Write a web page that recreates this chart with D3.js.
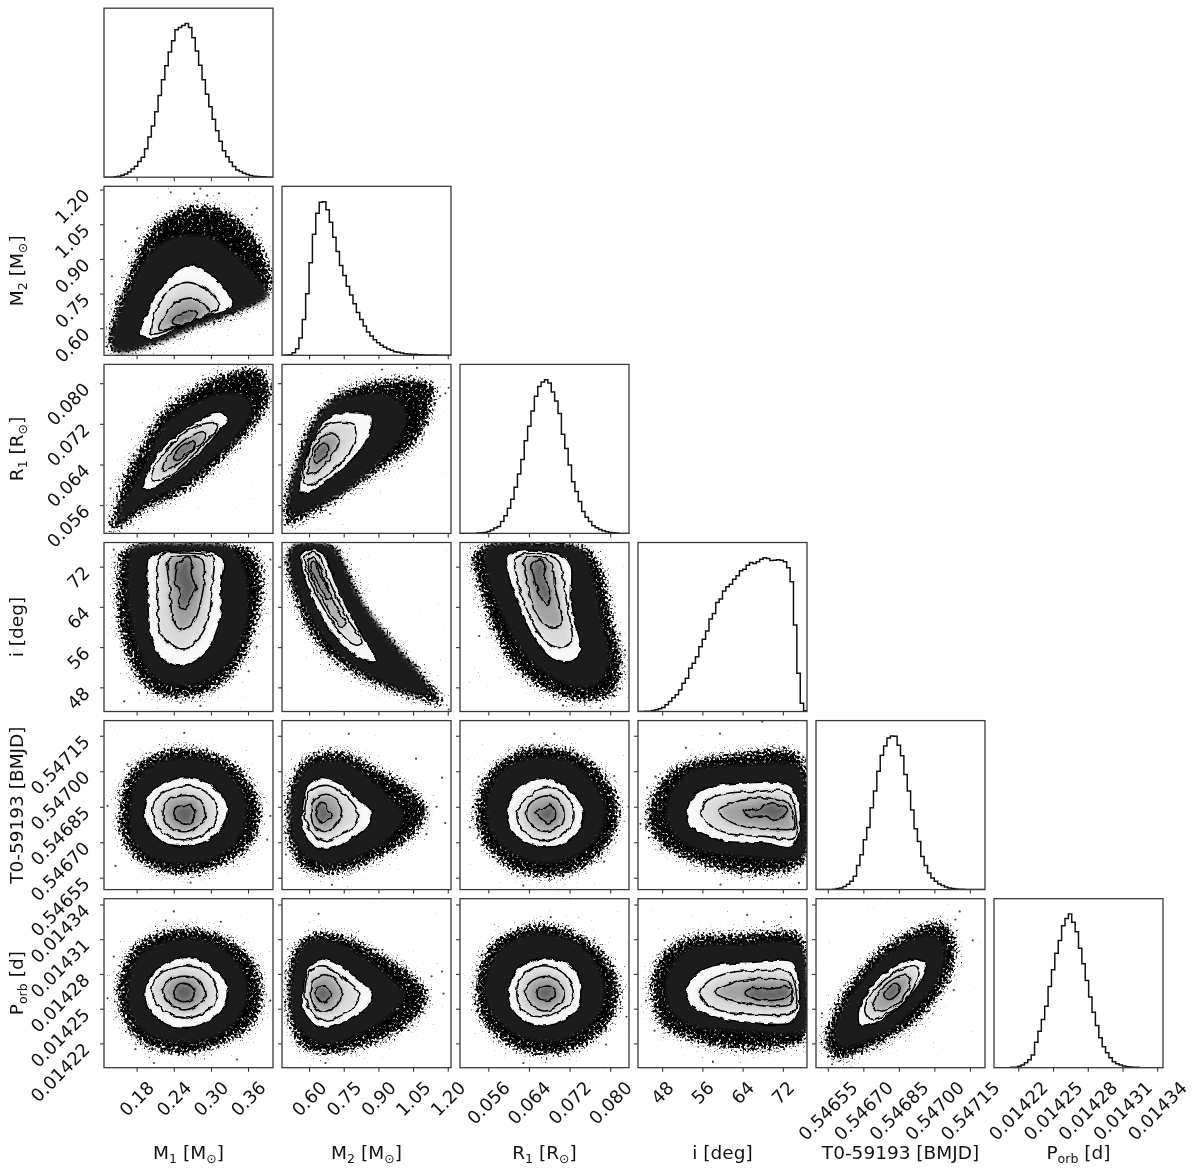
<!DOCTYPE html>
<html>
<head>
<meta charset="utf-8">
<script src="https://d3js.org/d3.v7.min.js"></script>
<style>
	html, body { margin: 0; padding: 0; background: #fff; }
	svg { display: block; filter: blur(0.3px); }
	text { font-family: "DejaVu Sans"; fill: #111; white-space: pre; }
</style>
</head>
<body>
<svg id="corner" width="1200" height="1172"></svg>
<script>
// parameter ranges and ticks
var names = ["M1", "M2", "R1", "i", "T0", "Porb"];
var domains = [[0.1273, 0.4003], [0.483, 1.214], [0.05043, 0.0837], [43.2, 76.8], [0.5465, 0.547214], [0.014199, 0.014345]];
var tick_m1 = ["0.18", "0.24", "0.30", "0.36"];
var tick_m2 = ["0.60", "0.75", "0.90", "1.05", "1.20"];
var tick_r1 = ["0.056", "0.064", "0.072", "0.080"];
var tick_i = ["48", "56", "64", "72"];
var tick_t0 = ["0.54655", "0.54670", "0.54685", "0.54700", "0.54715"];
var tick_porb = ["0.01422", "0.01425", "0.01428", "0.01431", "0.01434"];
var ticks = [tick_m1, tick_m2, tick_r1, tick_i, tick_t0, tick_porb];
// [text, is subscript]
var labels = [
	[["M", 0], ["1", 1], [" [M", 0], ["⊙", 1], ["]", 0]],
	[["M", 0], ["2", 1], [" [M", 0], ["⊙", 1], ["]", 0]],
	[["R", 0], ["1", 1], [" [R", 0], ["⊙", 1], ["]", 0]],
	[["i [deg]", 0]],
	[["T0-59193 [BMJD]", 0]],
	[["P", 0], ["orb", 1], [" [d]", 0]]
];

// 50 bin histograms, relative counts
var bins_m1 = [0,0,0,1,3,6,10,16,25,33,47,60,86,121,154,197,246,294,336,377,411,444,451,457,463,451,420,380,337,294,250,212,175,140,108,80,62,46,32,22,17,12,8,5,3,2,1,1,0,0];
var bins_m2 = [0,1,2,8,20,52,108,185,278,364,427,460,462,438,400,355,312,270,240,208,181,155,129,108,88,70,58,47,38,30,24,19,15,11,9,7,5,4,3,3,2,2,1,1,1,1,0,0,0,0];
var bins_r1 = [0,0,0,0,0,1,2,3,6,10,16,21,36,53,76,103,139,179,223,279,323,369,413,443,456,463,453,426,399,361,299,256,206,156,126,96,66,49,36,23,17,12,8,5,3,2,1,0,0,0];
var bins_i = [0,0,1,1,3,5,8,12,20,30,41,50,65,85,100,130,145,165,195,217,242,278,295,328,338,362,375,383,398,408,423,428,440,448,445,450,458,462,460,454,455,456,455,450,432,390,260,115,25,2];
var bins_t0 = [0,0,0,0,0,1,3,5,9,16,25,40,73,105,150,187,247,297,357,405,433,457,463,462,435,403,347,297,240,183,145,100,73,50,35,25,17,12,8,5,3,2,1,1,0,0,0,0,0,0];
var bins_porb = [0,0,0,0,0,1,1,4,8,15,24,38,77,110,145,185,245,295,345,383,428,450,463,438,410,360,313,263,213,167,127,90,63,45,30,18,12,8,5,3,2,1,1,0,0,0,0,0,0,0];
var bins = [bins_m1, bins_m2, bins_r1, bins_i, bins_t0, bins_porb];

// M1 / M2
var halo_m1_m2 = [[0.133,0.50],[0.140,0.66],[0.160,0.80],[0.181,0.95],[0.210,1.06],[0.260,1.13],[0.310,1.13],[0.365,1.03],[0.392,0.90],[0.398,0.76],[0.345,0.66],[0.275,0.60],[0.205,0.52],[0.150,0.49]];
var cloud_m1_m2 = [[0.146,0.500],[0.141,0.565],[0.160,0.709],[0.178,0.825],[0.205,0.933],[0.238,0.990],[0.270,1.005],[0.302,0.990],[0.340,0.919],[0.372,0.825],[0.391,0.738],[0.340,0.673],[0.275,0.608],[0.211,0.536]];
var levels_m1_m2 = [
	[[0.186,0.572],[0.197,0.666],[0.211,0.746],[0.230,0.810],[0.248,0.854],[0.267,0.875],[0.286,0.856],[0.308,0.817],[0.324,0.767],[0.335,0.695],[0.297,0.652],[0.253,0.608],[0.205,0.554]],
	[[0.203,0.579],[0.208,0.652],[0.219,0.717],[0.235,0.767],[0.254,0.796],[0.275,0.793],[0.297,0.760],[0.314,0.695],[0.286,0.644],[0.248,0.608],[0.213,0.577]],
	[[0.216,0.594],[0.224,0.652],[0.240,0.702],[0.257,0.727],[0.278,0.724],[0.298,0.669],[0.270,0.630],[0.238,0.601]],
	[[0.238,0.623],[0.243,0.652],[0.259,0.670],[0.276,0.673],[0.273,0.640],[0.251,0.616]]
];
var stray_m1_m2 = [[0.283,1.204],[0.273,1.182],[0.235,1.188],[0.294,1.174],[0.181,1.032],[0.366,1.091],[0.374,1.119],[0.162,0.976],[0.140,0.825],[0.394,0.868],[0.184,0.989],[0.313,1.184],[0.278,1.15],[0.25,1.12],[0.33,1.10]];

// M1 / R1
var halo_m1_r1 = [[0.133,0.0511],[0.141,0.0551],[0.160,0.0623],[0.184,0.0676],[0.222,0.0748],[0.265,0.0788],[0.313,0.0818],[0.382,0.0830],[0.399,0.0775],[0.378,0.0722],[0.340,0.0672],[0.297,0.0620],[0.248,0.0577],[0.195,0.0548],[0.151,0.0511]];
var cloud_m1_r1 = [[0.149,0.0524],[0.154,0.0554],[0.173,0.0597],[0.195,0.0643],[0.227,0.0722],[0.270,0.0758],[0.318,0.0781],[0.356,0.0775],[0.367,0.0748],[0.340,0.0692],[0.302,0.0650],[0.259,0.0603],[0.205,0.0571],[0.168,0.0541]];
var levels_m1_r1 = [
	[[0.189,0.0592],[0.195,0.0617],[0.208,0.0650],[0.230,0.0683],[0.254,0.0706],[0.275,0.0722],[0.297,0.0739],[0.316,0.0743],[0.328,0.0729],[0.313,0.0706],[0.291,0.0673],[0.265,0.0643],[0.238,0.0617],[0.216,0.0600],[0.197,0.0590]],
	[[0.205,0.0609],[0.206,0.0627],[0.219,0.0653],[0.240,0.0683],[0.262,0.0706],[0.286,0.0719],[0.309,0.0721],[0.310,0.0709],[0.291,0.0683],[0.267,0.0653],[0.243,0.0627],[0.222,0.0611]],
	[[0.222,0.0628],[0.224,0.0643],[0.243,0.0673],[0.265,0.0694],[0.289,0.0704],[0.291,0.0692],[0.270,0.0666],[0.246,0.0640],[0.227,0.0627]],
	[[0.240,0.0651],[0.243,0.0663],[0.257,0.0680],[0.274,0.0684],[0.273,0.0673],[0.259,0.0660],[0.246,0.0648]]
];
var stray_m1_r1 = [[0.366,0.0824],[0.291,0.0808],[0.396,0.0778],[0.235,0.0771],[0.181,0.0669],[0.138,0.0593],[0.281,0.0623],[0.356,0.0788],[0.253,0.0775],[0.335,0.0815]];

// M1 / i
var halo_m1_i = [[0.154,75.4],[0.262,76.8],[0.369,75.4],[0.386,69.4],[0.375,60.2],[0.348,52.2],[0.300,46.9],[0.251,45.6],[0.203,46.9],[0.168,52.2],[0.149,60.8],[0.146,70.1]];
var cloud_m1_i = [[0.173,75.7],[0.257,76.6],[0.332,75.7],[0.353,72.1],[0.361,62.8],[0.337,54.2],[0.294,49.6],[0.251,48.2],[0.213,49.6],[0.184,54.9],[0.168,62.8],[0.165,71.4]];
var levels_m1_i = [
	[[0.200,73.8],[0.219,74.8],[0.262,75.1],[0.305,74.6],[0.320,73.4],[0.316,68.1],[0.317,62.8],[0.308,58.8],[0.294,55.2],[0.270,52.9],[0.246,52.3],[0.219,53.9],[0.203,58.2],[0.198,66.1]],
	[[0.214,73.1],[0.222,74.5],[0.262,74.7],[0.300,74.1],[0.305,73.1],[0.302,68.1],[0.297,62.1],[0.283,58.2],[0.259,55.7],[0.235,56.5],[0.218,58.8],[0.214,66.1]],
	[[0.232,73.4],[0.262,74.1],[0.286,73.4],[0.289,69.4],[0.283,64.8],[0.273,61.2],[0.251,59.5],[0.239,61.5],[0.234,67.5]],
	[[0.246,72.4],[0.262,73.8],[0.270,72.8],[0.268,70.8],[0.277,67.8],[0.267,65.8],[0.259,63.5],[0.248,64.8],[0.251,66.8],[0.243,68.8],[0.244,71.1]]
];
var stray_m1_i = [[0.143,75.4],[0.184,46.9],[0.374,56.1],[0.251,44.9],[0.283,44.3],[0.396,73.4],[0.160,45.2],[0.361,51.2]];

// M1 / T0
var halo_m1_t0 = [[0.149,0.546839],[0.168,0.547008],[0.208,0.547079],[0.257,0.547107],[0.321,0.547065],[0.364,0.546966],[0.383,0.546825],[0.367,0.546685],[0.316,0.546593],[0.257,0.546558],[0.197,0.546593],[0.157,0.546691]];
var cloud_m1_t0 = [[0.168,0.546839],[0.181,0.546966],[0.213,0.547037],[0.257,0.547058],[0.305,0.547037],[0.340,0.546959],[0.359,0.546839],[0.345,0.546713],[0.308,0.546635],[0.257,0.546607],[0.203,0.546635],[0.173,0.546713]];
var levels_m1_t0 = [
	[[0.192,0.546832],[0.200,0.546903],[0.224,0.546952],[0.257,0.546973],[0.294,0.546952],[0.318,0.546896],[0.328,0.546832],[0.318,0.546762],[0.294,0.546706],[0.259,0.546685],[0.224,0.546699],[0.200,0.546755]],
	[[0.206,0.546832],[0.211,0.546882],[0.230,0.546917],[0.257,0.546938],[0.289,0.546917],[0.308,0.546860],[0.310,0.546811],[0.297,0.546748],[0.267,0.546713],[0.235,0.546720],[0.213,0.546769]],
	[[0.223,0.546832],[0.230,0.546875],[0.257,0.546898],[0.281,0.546879],[0.290,0.546825],[0.283,0.546776],[0.259,0.546745],[0.235,0.546762],[0.224,0.546797]],
	[[0.240,0.546825],[0.246,0.546851],[0.257,0.546851],[0.265,0.546860],[0.274,0.546825],[0.273,0.546797],[0.259,0.546776],[0.246,0.546794]]
];
var stray_m1_t0 = [[0.257,0.547162],[0.165,0.547029],[0.133,0.546854],[0.396,0.546811],[0.267,0.546530],[0.391,0.546711],[0.146,0.546600]];

// M1 / Porb
var halo_m1_porb = [[0.146,0.014266],[0.168,0.014301],[0.208,0.014315],[0.257,0.014321],[0.321,0.014314],[0.367,0.014295],[0.386,0.014266],[0.370,0.014235],[0.310,0.014216],[0.257,0.014210],[0.197,0.014216],[0.160,0.014235]];
var cloud_m1_porb = [[0.165,0.014266],[0.181,0.014294],[0.219,0.014307],[0.257,0.014311],[0.305,0.014307],[0.340,0.014292],[0.361,0.014266],[0.345,0.014242],[0.308,0.014226],[0.257,0.014221],[0.203,0.014226],[0.173,0.014242]];
var levels_m1_porb = [
	[[0.193,0.014264],[0.200,0.014276],[0.224,0.014288],[0.254,0.014294],[0.289,0.014291],[0.316,0.014279],[0.328,0.014265],[0.318,0.014249],[0.294,0.014239],[0.267,0.014234],[0.230,0.014236],[0.200,0.014249]],
	[[0.204,0.014265],[0.213,0.014278],[0.235,0.014284],[0.262,0.014287],[0.294,0.014281],[0.308,0.014269],[0.310,0.014259],[0.294,0.014248],[0.262,0.014242],[0.235,0.014245],[0.211,0.014256]],
	[[0.222,0.014266],[0.232,0.014274],[0.257,0.014278],[0.278,0.014275],[0.290,0.014265],[0.283,0.014255],[0.259,0.014249],[0.240,0.014252],[0.224,0.014261]],
	[[0.240,0.014264],[0.248,0.014271],[0.262,0.014271],[0.273,0.014266],[0.274,0.014261],[0.265,0.014257],[0.248,0.014257]]
];
var stray_m1_porb = [[0.240,0.014334],[0.227,0.014326],[0.316,0.014325],[0.143,0.014295],[0.133,0.014259],[0.396,0.014257],[0.208,0.014203],[0.342,0.014206],[0.178,0.014215]];

// M2 / R1
var halo_m2_r1 = [[0.497,0.0515],[0.490,0.0571],[0.534,0.0643],[0.598,0.0722],[0.699,0.0775],[0.829,0.0801],[1.002,0.0811],[1.146,0.0798],[1.132,0.0742],[1.060,0.0676],[0.944,0.0637],[0.815,0.0597],[0.670,0.0554],[0.555,0.0524]];
var cloud_m2_r1 = [[0.526,0.0544],[0.515,0.0577],[0.555,0.0643],[0.613,0.0709],[0.692,0.0762],[0.815,0.0778],[0.944,0.0778],[1.024,0.0739],[0.988,0.0686],[0.887,0.0637],[0.743,0.0584],[0.613,0.0554]];
var levels_m2_r1 = [
	[[0.562,0.0585],[0.566,0.0623],[0.598,0.0669],[0.656,0.0719],[0.714,0.0739],[0.800,0.0742],[0.872,0.0734],[0.865,0.0706],[0.829,0.0673],[0.757,0.0637],[0.656,0.0600],[0.591,0.0584]],
	[[0.577,0.0605],[0.581,0.0637],[0.613,0.0682],[0.670,0.0715],[0.728,0.0723],[0.793,0.0718],[0.803,0.0699],[0.778,0.0666],[0.714,0.0633],[0.642,0.0607],[0.591,0.0600]],
	[[0.598,0.0622],[0.605,0.0653],[0.642,0.0689],[0.692,0.0702],[0.728,0.0694],[0.721,0.0673],[0.685,0.0650],[0.634,0.0625]],
	[[0.624,0.0647],[0.634,0.0670],[0.663,0.0682],[0.685,0.0675],[0.670,0.0656],[0.642,0.0645]]
];
var stray_m2_r1 = [[1.123,0.0837],[1.067,0.0830],[1.204,0.0791],[1.167,0.0775],[0.691,0.0543],[1.002,0.0637],[1.089,0.0689],[1.009,0.0672],[0.730,0.0789],[0.916,0.0827],[0.496,0.0521],[1.19,0.0780],[1.04,0.0815]];

// M2 / i
var halo_m2_i = [[0.497,74.8],[0.541,76.7],[0.721,76.1],[0.778,71.1],[0.851,63.8],[0.944,58.5],[1.060,52.5],[1.161,47.2],[1.189,43.9],[1.089,45.2],[0.944,47.2],[0.786,50.6],[0.649,55.5],[0.555,62.8],[0.505,69.8]];
var cloud_m2_i = [[0.512,74.4],[0.541,76.3],[0.692,76.1],[0.750,72.4],[0.800,67.1],[0.887,61.2],[0.988,55.5],[1.089,49.9],[1.117,46.9],[1.045,46.9],[0.944,48.6],[0.800,51.9],[0.685,56.5],[0.591,63.1],[0.534,69.1]];
var levels_m2_i = [
	[[0.566,74.4],[0.598,75.3],[0.649,75.1],[0.685,72.4],[0.728,67.1],[0.778,62.5],[0.836,57.8],[0.894,53.3],[0.843,53.3],[0.757,55.9],[0.685,59.8],[0.620,65.1],[0.577,70.4]],
	[[0.581,73.8],[0.605,74.8],[0.642,74.3],[0.670,71.1],[0.714,66.5],[0.764,61.8],[0.829,56.9],[0.800,56.4],[0.728,59.2],[0.663,63.8],[0.605,69.1]],
	[[0.595,73.1],[0.620,73.9],[0.642,72.4],[0.685,67.1],[0.728,63.1],[0.760,60.4],[0.735,60.2],[0.678,63.8],[0.627,68.1],[0.603,71.1]],
	[[0.610,72.8],[0.627,73.1],[0.644,70.8],[0.670,68.4],[0.696,65.8],[0.678,65.5],[0.649,67.8],[0.620,70.1]]
];
var stray_m2_i = [[1.204,43.6],[1.175,45.9],[1.024,53.5],[0.950,58.8],[0.685,54.0],[0.799,49.9],[1.139,47.2],[1.074,52.1]];

// R1 / i
var halo_r1_i = [[0.0528,75.2],[0.0751,76.2],[0.0785,72.1],[0.0808,61.2],[0.0826,53.1],[0.0812,46.9],[0.0751,44.9],[0.0690,46.3],[0.0616,51.0],[0.0568,59.2],[0.0538,68.1]];
var cloud_r1_i = [[0.0555,75.7],[0.0656,76.4],[0.0744,75.2],[0.0768,69.4],[0.0785,60.6],[0.0799,53.1],[0.0771,48.3],[0.0724,48.3],[0.0670,51.0],[0.0623,55.8],[0.0582,63.3],[0.0558,70.1]];
var levels_r1_i = [
	[[0.0597,74.2],[0.0616,75.0],[0.0663,75.2],[0.0711,73.8],[0.0723,72.1],[0.0724,64.6],[0.0742,56.5],[0.0741,55.1],[0.0724,53.2],[0.0683,53.9],[0.0650,57.8],[0.0616,65.3],[0.0599,70.8]],
	[[0.0612,73.5],[0.0629,74.5],[0.0677,74.3],[0.0700,72.8],[0.0711,66.7],[0.0721,61.2],[0.0724,57.2],[0.0697,55.9],[0.0663,58.2],[0.0629,65.3],[0.0616,70.1]],
	[[0.0631,73.5],[0.0653,74.0],[0.0683,72.8],[0.0691,68.1],[0.0704,60.4],[0.0680,59.9],[0.0653,62.9],[0.0636,69.4]],
	[[0.0646,72.1],[0.0660,73.4],[0.0673,72.3],[0.0669,69.8],[0.0682,67.4],[0.0677,64.3],[0.0663,66.0],[0.0650,69.8]]
];
var stray_r1_i = [[0.0542,58.2],[0.0788,70.1],[0.0829,55.4],[0.0643,48.3],[0.0707,44.4],[0.0781,43.9],[0.0808,46.2],[0.0697,52.5],[0.0706,52.6]];

// M2 / T0
var halo_m2_t0 = [[0.498,0.546821],[0.523,0.546980],[0.604,0.547073],[0.738,0.547089],[0.871,0.547031],[1.034,0.546937],[1.123,0.546836],[1.049,0.546720],[0.885,0.546618],[0.693,0.546561],[0.560,0.546590],[0.504,0.546705]];
var cloud_m2_t0 = [[0.518,0.546821],[0.545,0.546951],[0.612,0.547031],[0.730,0.547045],[0.842,0.546988],[0.953,0.546886],[1.012,0.546814],[0.945,0.546713],[0.812,0.546640],[0.679,0.546604],[0.575,0.546647],[0.528,0.546727]];
var levels_m2_t0 = [
	[[0.572,0.546850],[0.597,0.546944],[0.649,0.546969],[0.738,0.546944],[0.812,0.546879],[0.874,0.546828],[0.849,0.546763],[0.782,0.546713],[0.679,0.546669],[0.605,0.546698],[0.572,0.546763]],
	[[0.582,0.546821],[0.605,0.546915],[0.679,0.546940],[0.752,0.546901],[0.807,0.546836],[0.800,0.546778],[0.738,0.546734],[0.664,0.546705],[0.605,0.546749]],
	[[0.609,0.546821],[0.627,0.546886],[0.686,0.546901],[0.738,0.546850],[0.730,0.546792],[0.679,0.546746],[0.627,0.546763]],
	[[0.634,0.546821],[0.649,0.546868],[0.675,0.546857],[0.682,0.546836],[0.698,0.546824],[0.686,0.546800],[0.656,0.546781]]
];
var stray_m2_t0 = [[0.772,0.547158],[1.175,0.546973],[1.189,0.546781],[1.152,0.546850],[1.063,0.547053],[0.699,0.546520],[0.500,0.546648],[1.108,0.546734]];

// R1 / T0
var halo_r1_t0 = [[0.0531,0.546836],[0.0555,0.546992],[0.0609,0.547086],[0.0677,0.547111],[0.0751,0.547067],[0.0799,0.546966],[0.0822,0.546836],[0.0802,0.546691],[0.0745,0.546582],[0.0677,0.546546],[0.0602,0.546582],[0.0548,0.546691]];
var cloud_r1_t0 = [[0.0555,0.546836],[0.0575,0.546973],[0.0622,0.547045],[0.0677,0.547060],[0.0731,0.547031],[0.0771,0.546944],[0.0792,0.546836],[0.0775,0.546720],[0.0731,0.546640],[0.0677,0.546612],[0.0616,0.546640],[0.0572,0.546720]];
var levels_r1_t0 = [
	[[0.0597,0.546821],[0.0609,0.546908],[0.0643,0.546959],[0.0677,0.546969],[0.0717,0.546930],[0.0745,0.546850],[0.0748,0.546807],[0.0738,0.546749],[0.0704,0.546691],[0.0670,0.546680],[0.0629,0.546705],[0.0602,0.546763]],
	[[0.0616,0.546821],[0.0629,0.546869],[0.0670,0.546930],[0.0704,0.546915],[0.0727,0.546843],[0.0725,0.546778],[0.0697,0.546720],[0.0663,0.546708],[0.0629,0.546749]],
	[[0.0635,0.546821],[0.0646,0.546872],[0.0677,0.546896],[0.0700,0.546872],[0.0709,0.546821],[0.0700,0.546770],[0.0673,0.546746],[0.0646,0.546770]],
	[[0.0653,0.546828],[0.0669,0.546840],[0.0680,0.546857],[0.0691,0.546836],[0.0690,0.546800],[0.0677,0.546781],[0.0662,0.546804]]
];
var stray_r1_t0 = [[0.0690,0.547158],[0.0808,0.546980],[0.0836,0.546850],[0.0524,0.546763],[0.0788,0.546618],[0.0629,0.546517],[0.0541,0.546977]];

// i / T0
var halo_i_t0 = [[44.7,0.546831],[47.7,0.546972],[53.0,0.547042],[63.6,0.547084],[74.2,0.547092],[76.8,0.547028],[76.8,0.546620],[74.2,0.546577],[63.6,0.546563],[55.0,0.546606],[49.0,0.546662],[45.4,0.546732]];
var cloud_i_t0 = [[48.7,0.546824],[50.4,0.546936],[54.3,0.547007],[64.3,0.547028],[74.2,0.547028],[76.1,0.546972],[76.7,0.546817],[76.3,0.546648],[73.6,0.546627],[62.9,0.546641],[55.0,0.546669],[50.7,0.546725]];
var levels_i_t0 = [
	[[52.9,0.546831],[54.3,0.546894],[57.7,0.546936],[64.9,0.546951],[72.6,0.546947],[74.5,0.546909],[75.5,0.546817],[74.9,0.546718],[73.6,0.546679],[68.2,0.546697],[60.3,0.546704],[56.3,0.546732],[53.3,0.546775]],
	[[55.7,0.546824],[57.1,0.546880],[60.9,0.546906],[66.9,0.546915],[72.8,0.546913],[74.2,0.546859],[74.7,0.546754],[74.1,0.546715],[68.2,0.546725],[61.6,0.546735],[58.3,0.546761],[56.5,0.546789]],
	[[59.3,0.546834],[63.6,0.546876],[68.9,0.546887],[72.9,0.546866],[74.2,0.546761],[70.9,0.546754],[65.6,0.546761],[61.6,0.546786]],
	[[64.1,0.546831],[67.3,0.546842],[68.9,0.546862],[72.9,0.546842],[72.4,0.546817],[70.1,0.546792],[68.8,0.546810],[65.6,0.546810]]
];
var stray_i_t0 = [[59.5,0.547159],[67.9,0.547210],[43.7,0.546778],[46.7,0.546977],[45.0,0.546931],[49.7,0.547007],[59.6,0.546521],[47.7,0.546669],[75.2,0.546528],[52.7,0.547099]];

// M2 / Porb
var halo_m2_porb = [[0.498,0.014263],[0.523,0.014299],[0.604,0.014316],[0.738,0.014315],[0.901,0.014300],[1.049,0.014281],[1.123,0.014260],[1.049,0.014237],[0.885,0.014219],[0.693,0.014210],[0.560,0.014216],[0.504,0.014243]];
var cloud_m2_porb = [[0.518,0.014266],[0.545,0.014293],[0.597,0.014309],[0.723,0.014307],[0.842,0.014294],[0.960,0.014276],[1.012,0.014262],[0.945,0.014243],[0.812,0.014228],[0.679,0.014219],[0.575,0.014228],[0.528,0.014245]];
var levels_m2_porb = [
	[[0.572,0.014263],[0.597,0.014285],[0.656,0.014293],[0.738,0.014287],[0.812,0.014275],[0.878,0.014263],[0.845,0.014250],[0.768,0.014240],[0.671,0.014233],[0.605,0.014240],[0.572,0.014251]],
	[[0.582,0.014263],[0.605,0.014282],[0.664,0.014287],[0.738,0.014278],[0.812,0.014265],[0.804,0.014254],[0.738,0.014244],[0.664,0.014240],[0.612,0.014247]],
	[[0.605,0.014263],[0.624,0.014276],[0.679,0.014279],[0.741,0.014266],[0.716,0.014252],[0.656,0.014247],[0.619,0.014254]],
	[[0.630,0.014265],[0.646,0.014269],[0.679,0.014269],[0.693,0.014263],[0.668,0.014255],[0.639,0.014259]]
];
var stray_m2_porb = [[1.175,0.014282],[1.182,0.014263],[0.641,0.014332],[1.093,0.014247],[0.671,0.014203],[1.130,0.014278]];

// R1 / Porb
var halo_r1_porb = [[0.0531,0.014266],[0.0555,0.014302],[0.0609,0.014319],[0.0677,0.014324],[0.0751,0.014313],[0.0799,0.014293],[0.0822,0.014266],[0.0802,0.014237],[0.0745,0.014216],[0.0677,0.014209],[0.0602,0.014216],[0.0548,0.014237]];
var cloud_r1_porb = [[0.0551,0.014266],[0.0575,0.014297],[0.0622,0.014312],[0.0677,0.014315],[0.0737,0.014306],[0.0771,0.014290],[0.0791,0.014266],[0.0775,0.014243],[0.0731,0.014227],[0.0677,0.014221],[0.0616,0.014227],[0.0572,0.014243]];
var levels_r1_porb = [
	[[0.0599,0.014262],[0.0612,0.014281],[0.0643,0.014291],[0.0683,0.014293],[0.0724,0.014287],[0.0743,0.014269],[0.0738,0.014251],[0.0711,0.014241],[0.0670,0.014235],[0.0629,0.014240],[0.0606,0.014250]],
	[[0.0616,0.014263],[0.0626,0.014278],[0.0663,0.014287],[0.0704,0.014282],[0.0725,0.014269],[0.0725,0.014257],[0.0697,0.014247],[0.0660,0.014243],[0.0629,0.014248]],
	[[0.0633,0.014265],[0.0643,0.014273],[0.0673,0.014278],[0.0700,0.014272],[0.0709,0.014263],[0.0697,0.014253],[0.0670,0.014248],[0.0643,0.014254]],
	[[0.0654,0.014263],[0.0663,0.014268],[0.0683,0.014269],[0.0692,0.014263],[0.0683,0.014258],[0.0663,0.014258]]
];
var stray_r1_porb = [[0.0683,0.014329],[0.0821,0.014278],[0.0832,0.014243],[0.0629,0.014203],[0.0548,0.014290],[0.0792,0.014219]];

// i / Porb
var halo_i_porb = [[45.4,0.014266],[47.2,0.014295],[52.6,0.014312],[63.5,0.014316],[75.7,0.014316],[76.8,0.014301],[76.8,0.014222],[73.0,0.014216],[62.8,0.014214],[53.3,0.014222],[47.8,0.014234]];
var cloud_i_porb = [[48.5,0.014266],[50.2,0.014290],[53.9,0.014303],[62.8,0.014306],[74.4,0.014307],[76.1,0.014299],[76.8,0.014266],[76.4,0.014231],[73.0,0.014228],[62.1,0.014231],[54.6,0.014234],[50.2,0.014245]];
var levels_i_porb = [
	[[52.7,0.014263],[54.3,0.014278],[58.1,0.014287],[66.2,0.014290],[74.0,0.014290],[75.1,0.014275],[75.1,0.014248],[73.7,0.014238],[65.5,0.014238],[58.1,0.014243],[54.3,0.014251]],
	[[55.4,0.014263],[57.0,0.014273],[61.4,0.014281],[68.2,0.014283],[73.0,0.014282],[74.5,0.014269],[74.0,0.014247],[66.9,0.014245],[60.8,0.014247],[57.0,0.014253]],
	[[58.4,0.014264],[62.1,0.014272],[68.2,0.014276],[73.0,0.014273],[74.0,0.014263],[73.6,0.014254],[66.9,0.014253],[61.4,0.014258]],
	[[64.5,0.014264],[66.2,0.014268],[69.6,0.014267],[73.0,0.014269],[73.9,0.014266],[72.3,0.014259],[66.9,0.014258]]
];
var stray_i_porb = [[48.5,0.014309],[58.1,0.014204],[64.9,0.014331],[44.8,0.014257],[46.5,0.014231],[68.2,0.014325],[73.6,0.014329]];

// T0 / Porb
var halo_t0_porb = [[0.546533,0.014215],[0.546554,0.014241],[0.546645,0.014275],[0.546744,0.014298],[0.546884,0.014317],[0.547040,0.014326],[0.547096,0.014309],[0.547075,0.014278],[0.546969,0.014246],[0.546842,0.014226],[0.546702,0.014212],[0.546589,0.014205]];
var cloud_t0_porb = [[0.546575,0.014225],[0.546603,0.014246],[0.546673,0.014269],[0.546765,0.014291],[0.546884,0.014308],[0.546997,0.014314],[0.547046,0.014302],[0.547025,0.014278],[0.546927,0.014252],[0.546828,0.014233],[0.546702,0.014221],[0.546610,0.014216]];
var levels_t0_porb = [
	[[0.546680,0.014248],[0.546708,0.014261],[0.546772,0.014278],[0.546856,0.014289],[0.546920,0.014293],[0.546966,0.014288],[0.546955,0.014278],[0.546898,0.014261],[0.546814,0.014245],[0.546729,0.014236],[0.546687,0.014235]],
	[[0.546706,0.014248],[0.546723,0.014259],[0.546786,0.014274],[0.546856,0.014284],[0.546920,0.014287],[0.546935,0.014281],[0.546913,0.014268],[0.546856,0.014253],[0.546786,0.014244],[0.546729,0.014241]],
	[[0.546741,0.014252],[0.546758,0.014262],[0.546814,0.014274],[0.546877,0.014279],[0.546898,0.014274],[0.546884,0.014264],[0.546828,0.014252],[0.546772,0.014248]],
	[[0.546786,0.014262],[0.546807,0.014268],[0.546835,0.014272],[0.546856,0.014268],[0.546842,0.014262],[0.546807,0.014258]]
];
var stray_t0_porb = [[0.547162,0.014309],[0.547107,0.014334],[0.547089,0.014327],[0.546525,0.014246],[0.547082,0.014266],[0.546568,0.014202],[0.546969,0.014325],[0.547040,0.014317]];

// x parameter, y parameter, outer scatter edge, solid cloud, four contours, lone points
var pairs = [
	[0, 1, halo_m1_m2, cloud_m1_m2, levels_m1_m2, stray_m1_m2],
	[0, 2, halo_m1_r1, cloud_m1_r1, levels_m1_r1, stray_m1_r1],
	[0, 3, halo_m1_i, cloud_m1_i, levels_m1_i, stray_m1_i],
	[0, 4, halo_m1_t0, cloud_m1_t0, levels_m1_t0, stray_m1_t0],
	[0, 5, halo_m1_porb, cloud_m1_porb, levels_m1_porb, stray_m1_porb],
	[1, 2, halo_m2_r1, cloud_m2_r1, levels_m2_r1, stray_m2_r1],
	[1, 3, halo_m2_i, cloud_m2_i, levels_m2_i, stray_m2_i],
	[1, 4, halo_m2_t0, cloud_m2_t0, levels_m2_t0, stray_m2_t0],
	[1, 5, halo_m2_porb, cloud_m2_porb, levels_m2_porb, stray_m2_porb],
	[2, 3, halo_r1_i, cloud_r1_i, levels_r1_i, stray_r1_i],
	[2, 4, halo_r1_t0, cloud_r1_t0, levels_r1_t0, stray_r1_t0],
	[2, 5, halo_r1_porb, cloud_r1_porb, levels_r1_porb, stray_r1_porb],
	[3, 4, halo_i_t0, cloud_i_t0, levels_i_t0, stray_i_t0],
	[3, 5, halo_i_porb, cloud_i_porb, levels_i_porb, stray_i_porb],
	[4, 5, halo_t0_porb, cloud_t0_porb, levels_t0_porb, stray_t0_porb]
];
var level_fills = ["#f9f9f9", "#dadada", "#a2a2a2", "#626262"];

var size = 169;
var left = 104, top_y = 8.2, step_x = 178, step_y = 178.1;
var font_size = 18;

var svg = d3.select("#corner");
var defs = svg.append("defs");

// the sampler's individual points are far too many to read one by one, so the
// grainy edge of each cloud is a noise texture over the read outline, not data
function add_speckle(id, seed, spread, freq, octaves, cut, slope) {
	var f = defs.append("filter").attr("id", id)
		.attr("filterUnits", "userSpaceOnUse")
		.attr("x", -40).attr("y", -40).attr("width", size + 80).attr("height", size + 80)
		.attr("color-interpolation-filters", "sRGB");
	f.append("feGaussianBlur").attr("in", "SourceAlpha").attr("stdDeviation", spread).attr("result", "soft");
	f.append("feTurbulence").attr("type", "fractalNoise").attr("baseFrequency", freq)
		.attr("numOctaves", octaves).attr("seed", seed).attr("result", "noise");
	f.append("feColorMatrix").attr("in", "noise").attr("type", "matrix")
		.attr("values", "0 0 0 0 0  0 0 0 0 0  0 0 0 0 0  1 0 0 0 0").attr("result", "grain");
	f.append("feComposite").attr("in", "grain").attr("in2", "soft").attr("operator", "arithmetic")
		.attr("k1", 0).attr("k2", 1).attr("k3", 0.5).attr("k4", cut);
	f.append("feComponentTransfer").append("feFuncA").attr("type", "linear").attr("slope", slope).attr("intercept", 0);
	f.append("feGaussianBlur").attr("stdDeviation", 0.45);
}

// small wobble, the contours come from a binned histogram and are not smooth
var wobble = defs.append("filter").attr("id", "wobble")
	.attr("filterUnits", "userSpaceOnUse")
	.attr("x", -10).attr("y", -10).attr("width", size + 20).attr("height", size + 20)
	.attr("color-interpolation-filters", "sRGB");
wobble.append("feTurbulence").attr("type", "fractalNoise").attr("baseFrequency", 0.16)
	.attr("numOctaves", 1).attr("seed", 5).attr("result", "shift");
wobble.append("feDisplacementMap").attr("in", "SourceGraphic").attr("in2", "shift")
	.attr("scale", 5).attr("xChannelSelector", "R").attr("yChannelSelector", "G");

defs.append("filter").attr("id", "soft_edge").append("feGaussianBlur").attr("stdDeviation", 2);
defs.append("filter").attr("id", "soft_fill").append("feGaussianBlur").attr("stdDeviation", 3);

var line = d3.line().curve(d3.curveCatmullRomClosed.alpha(0.5));
var step_line = d3.line().curve(d3.curveStepAfter);

function scale_x(k) {
	return d3.scaleLinear().domain(domains[k]).range([0, size]);
}

function scale_y(k, height) {
	return d3.scaleLinear().domain(domains[k]).range([height, 0]);
}

function add_panel(col, row) {
	var g = svg.append("g").attr("transform", "translate(" + (left + col * step_x) + "," + (top_y + row * step_y) + ")");
	var id = "clip_" + col + "_" + row;
	defs.append("clipPath").attr("id", id).append("rect").attr("width", size).attr("height", size);
	g.append("rect").attr("width", size).attr("height", size).attr("fill", "#fff");
	g.append("g").attr("class", "marks").attr("clip-path", "url(#" + id + ")");
	return g;
}

function add_frame(g, col, row, has_y) {
	var x_axis = d3.axisBottom(scale_x(col)).tickValues(ticks[col].map(Number)).tickSize(4).tickFormat("");
	g.append("g").attr("transform", "translate(0," + size + ")").call(x_axis);
	if (has_y) {
		var y_axis = d3.axisLeft(scale_y(row, size)).tickValues(ticks[row].map(Number)).tickSize(4).tickFormat("");
		g.append("g").call(y_axis);
	}
	g.selectAll(".domain").remove();
	g.selectAll(".tick line").attr("stroke", "#333").attr("stroke-width", 1.1);
	g.append("rect").attr("width", size).attr("height", size)
		.attr("fill", "none").attr("stroke", "#3a3a3a").attr("stroke-width", 1.3);
}

// histograms on the diagonal
bins.forEach(function(counts, k) {
	var g = add_panel(k, k);
	var x = scale_x(k);
	var y = d3.scaleLinear().domain([0, 1.1 * d3.max(counts)]).range([size, 0]);
	var width = (domains[k][1] - domains[k][0]) / counts.length;
	var pts = counts.map(function(c, i) { return [x(domains[k][0] + i * width), y(c)]; });
	pts.push([x(domains[k][1]), y(counts[counts.length - 1])]);
	g.select(".marks").append("path")
		.attr("d", step_line(pts))
		.attr("fill", "none")
		.attr("stroke", "#111")
		.attr("stroke-width", 1.5);
	add_frame(g, k, k, false);
});

// density panels
pairs.forEach(function(p, n) {
	var col = p[0], row = p[1];
	var g = add_panel(col, row);
	var marks = g.select(".marks");
	var x = scale_x(col), y = scale_y(row, size);
	var to_px = function(d) { return [x(d[0]), y(d[1])]; };

	// sparse fine grain far out, denser grain close to the cloud
	add_speckle("far_" + n, n + 40, 9, 0.55, 2, -0.83, 5);
	add_speckle("near_" + n, n + 3, 5, 0.42, 1, -0.79, 6);
	marks.append("path").attr("d", line(p[2].map(to_px))).attr("filter", "url(#far_" + n + ")");
	marks.append("path").attr("d", line(p[2].map(to_px))).attr("filter", "url(#near_" + n + ")");
	marks.selectAll("circle").data(p[5]).enter().append("circle")
		.attr("cx", function(d) { return x(d[0]); })
		.attr("cy", function(d) { return y(d[1]); })
		.attr("r", 1.1)
		.attr("fill", "#111")
		.attr("fill-opacity", 0.8);
	marks.append("path").attr("d", line(p[3].map(to_px)))
		.attr("fill", "#1d1d1d")
		.attr("filter", "url(#soft_edge)");

	var inner = marks.append("g").attr("filter", "url(#wobble)");

	// white to grey steps, softened and cut off at the outer contour
	var clip_id = "level_" + n;
	defs.append("clipPath").attr("id", clip_id)
		.append("path").attr("d", line(p[4][0].map(to_px)));
	var fills = inner.append("g").attr("clip-path", "url(#" + clip_id + ")").append("g").attr("filter", "url(#soft_fill)");
	fills.append("rect").attr("x", -10).attr("y", -10).attr("width", size + 20).attr("height", size + 20).attr("fill", level_fills[0]);
	p[4].slice(1).forEach(function(poly, i) {
		fills.append("path").attr("d", line(poly.map(to_px))).attr("fill", level_fills[i + 1]);
	});

	p[4].forEach(function(poly) {
		inner.append("path").attr("d", line(poly.map(to_px)))
			.attr("fill", "none")
			.attr("stroke", "#000")
			.attr("stroke-width", 1.6);
	});
	add_frame(g, col, row, true);
});

function write_label(t, parts) {
	var shift = 0;
	parts.forEach(function(part) {
		var s = t.append("tspan").text(part[0]);
		if (part[1]) {
			s.attr("font-size", font_size * 0.7).attr("dy", 3.6);
			shift = 3.6;
		} else if (shift) {
			s.attr("dy", -shift);
			shift = 0;
		}
	});
}

// rotated tick labels, placed from their measured length
var bottom = top_y + 5 * step_y + size;
ticks.forEach(function(list, k) {
	var x = scale_x(k);
	list.forEach(function(label) {
		var t = svg.append("text").text(label).attr("font-size", font_size)
			.attr("text-anchor", "middle").attr("dominant-baseline", "central");
		var box = (t.node().getComputedTextLength() + 0.73 * font_size) * Math.SQRT1_2;
		var cx = left + k * step_x + x(+label);
		var cy = bottom + 12 + box / 2;
		t.attr("transform", "translate(" + cx + "," + cy + ") rotate(-45)");
	});
});
ticks.slice(1).forEach(function(list, j) {
	var k = j + 1;
	var y = scale_y(k, size);
	list.forEach(function(label) {
		var t = svg.append("text").text(label).attr("font-size", font_size)
			.attr("text-anchor", "middle").attr("dominant-baseline", "central");
		var box = (t.node().getComputedTextLength() + 0.73 * font_size) * Math.SQRT1_2;
		var cx = 91 - box / 2;
		var cy = top_y + k * step_y + y(+label) - 2 + box / 2;
		t.attr("transform", "translate(" + cx + "," + cy + ") rotate(-45)");
	});
});

// axis labels
labels.forEach(function(parts, k) {
	var t = svg.append("text").attr("font-size", font_size + 0.5).attr("text-anchor", "middle")
		.attr("x", left + k * step_x + size / 2).attr("y", 1159);
	write_label(t, parts);
	if (k > 0) {
		var ty = svg.append("text").attr("font-size", font_size + 0.5).attr("text-anchor", "middle")
			.attr("transform", "translate(23," + (top_y + k * step_y + size / 2) + ") rotate(-90)");
		write_label(ty, parts);
	}
});
</script>
</body>
</html>
